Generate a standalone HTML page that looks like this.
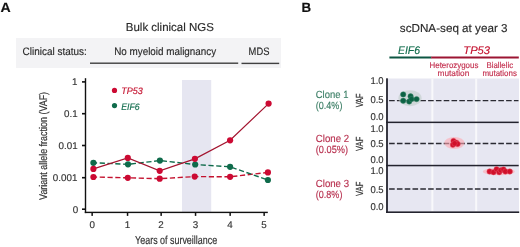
<!DOCTYPE html>
<html><head><meta charset="utf-8">
<style>
html,body{margin:0;padding:0;background:#fff;width:520px;height:247px;overflow:hidden}
svg{display:block;will-change:transform}
text{font-family:"Liberation Sans",sans-serif;text-rendering:geometricPrecision}
</style></head>
<body>
<svg width="520" height="247" viewBox="0 0 520 247">
<rect x="0" y="0" width="520" height="247" fill="#fff"/>

<!-- ===== Panel A ===== -->
<text x="0.4" y="11.5" font-size="13.5" font-weight="bold" fill="#111" stroke="#111" stroke-width="0.15" textLength="10.2" lengthAdjust="spacingAndGlyphs">A</text>
<text x="125.8" y="31.2" font-size="11.5" fill="#2a2a2a" stroke="#2a2a2a" stroke-width="0.15" textLength="88" lengthAdjust="spacingAndGlyphs">Bulk clinical NGS</text>

<rect x="16" y="38" width="265" height="30" fill="#f3f3f5"/>
<text x="22.6" y="54.6" font-size="10.8" fill="#2a2a2a" stroke="#2a2a2a" stroke-width="0.15" textLength="64.2" lengthAdjust="spacingAndGlyphs">Clinical status:</text>
<text x="114.2" y="54.8" font-size="10.8" fill="#2a2a2a" stroke="#2a2a2a" stroke-width="0.15" textLength="102" lengthAdjust="spacingAndGlyphs">No myeloid malignancy</text>
<text x="248.6" y="54.6" font-size="10.8" fill="#2a2a2a" stroke="#2a2a2a" stroke-width="0.15" textLength="20.8" lengthAdjust="spacingAndGlyphs">MDS</text>
<rect x="90" y="62.5" width="148.2" height="1.4" fill="#404040"/>
<rect x="241.5" y="62.7" width="37.7" height="1.4" fill="#404040"/>

<!-- shaded band -->
<rect x="182" y="80" width="29.2" height="132" fill="#e6e6f1"/>

<!-- axes -->
<rect x="84.8" y="78.2" width="1.4" height="134.9" fill="#111"/>
<rect x="84.8" y="211.7" width="183" height="1.4" fill="#111"/>
<g fill="#111">
<rect x="82" y="81.1" width="3" height="1.6"/>
<rect x="82" y="112.9" width="3" height="1.6"/>
<rect x="82" y="144.7" width="3" height="1.6"/>
<rect x="82" y="176.9" width="3" height="1.6"/>
<rect x="82" y="208.4" width="3" height="1.6"/>
<rect x="91.4" y="212.5" width="1.5" height="3.4"/>
<rect x="126.8" y="212.5" width="1.5" height="3.4"/>
<rect x="160.4" y="212.5" width="1.5" height="3.4"/>
<rect x="194.8" y="212.5" width="1.5" height="3.4"/>
<rect x="229.4" y="212.5" width="1.5" height="3.4"/>
<rect x="263.4" y="212.5" width="1.5" height="3.4"/>
</g>
<g font-size="9.8" fill="#333" stroke="#333" stroke-width="0.15" text-anchor="end">
<text x="77.4" y="84.7">1</text>
<text x="77.6" y="116.8">0.1</text>
<text x="77.6" y="148.5">0.01</text>
<text x="77.4" y="181">0.001</text>
<text x="78.2" y="212.6">0</text>
</g>
<g font-size="9.8" fill="#333" stroke="#333" stroke-width="0.15" text-anchor="middle">
<text x="92.2" y="227.7">0</text>
<text x="127.4" y="227.7">1</text>
<text x="161" y="227.7">2</text>
<text x="195.4" y="227.7">3</text>
<text x="230" y="227.7">4</text>
<text x="264" y="227.7">5</text>
</g>
<text transform="translate(135.1,244) scale(0.77,1)" font-size="11.6" fill="#333" stroke="#333" stroke-width="0.18">Years of surveillance</text>
<text transform="translate(46.8,199.9) rotate(-90) scale(0.806,1)" font-size="11.1" fill="#333" stroke="#333" stroke-width="0.18">Variant allele fraction (VAF)</text>

<!-- legend -->
<circle cx="114.5" cy="90.4" r="2.6" fill="#cc0a33"/>
<text x="121.2" y="94" font-size="9.4" font-style="italic" fill="#c4122f" stroke="#c4122f" stroke-width="0.15" textLength="21.6" lengthAdjust="spacingAndGlyphs">TP53</text>
<circle cx="114.5" cy="105.6" r="2.6" fill="#0f6b4b"/>
<text x="121.2" y="109.5" font-size="9.4" font-style="italic" fill="#0f6b4b" stroke="#0f6b4b" stroke-width="0.15" textLength="18.4" lengthAdjust="spacingAndGlyphs">EIF6</text>

<!-- data lines -->
<polyline points="93.4,177 127.8,177.8 159.7,178.7 194.7,176.6 230.1,176.8 267.9,172.4" fill="none" stroke="#c4122f" stroke-width="1.4" stroke-dasharray="5.2,2.6" stroke-dashoffset="1.5"/>
<polyline points="93.4,162.8 128.0,164.3 159.9,160.6 195.2,164.5 230.1,166.8 267.9,180.0" fill="none" stroke="#0f6b4b" stroke-width="1.4" stroke-dasharray="5.2,2.6" stroke-dashoffset="1.5"/>
<polyline points="93.4,168.9 127.8,157.9 159.7,170.8 194.9,158.8 230.1,140.3 268.6,103.6" fill="none" stroke="#a3142f" stroke-width="1.25"/>
<g fill="#cc0a33"><circle cx="93.4" cy="177" r="3.1"/><circle cx="127.8" cy="177.8" r="3.1"/><circle cx="159.7" cy="178.7" r="3.1"/><circle cx="194.7" cy="176.6" r="3.1"/><circle cx="230.1" cy="176.8" r="3.1"/><circle cx="267.9" cy="172.4" r="3.1"/></g>
<g fill="#0f6b4b"><circle cx="93.4" cy="162.8" r="3.1"/><circle cx="128.0" cy="164.3" r="3.1"/><circle cx="159.9" cy="160.6" r="3.1"/><circle cx="195.2" cy="164.5" r="3.1"/><circle cx="230.1" cy="166.8" r="3.1"/><circle cx="267.9" cy="180.0" r="3.1"/></g>
<g fill="#cc0a33"><circle cx="93.4" cy="168.9" r="3.1"/><circle cx="127.8" cy="157.9" r="3.1"/><circle cx="159.7" cy="170.8" r="3.1"/><circle cx="194.9" cy="158.8" r="3.1"/><circle cx="230.1" cy="140.3" r="3.1"/><circle cx="268.6" cy="103.6" r="3.1"/></g>

<!-- ===== Panel B ===== -->
<text x="301.5" y="11.8" font-size="13.5" font-weight="bold" fill="#111" stroke="#111" stroke-width="0.15" textLength="9.6" lengthAdjust="spacingAndGlyphs">B</text>
<text x="399.8" y="31.8" font-size="11.5" fill="#2a2a2a" stroke="#2a2a2a" stroke-width="0.15" textLength="107.8" lengthAdjust="spacingAndGlyphs">scDNA-seq at year 3</text>

<text x="398" y="54.2" font-size="11" font-style="italic" fill="#0f6b4b" stroke="#0f6b4b" stroke-width="0.15" textLength="22" lengthAdjust="spacingAndGlyphs">EIF6</text>
<text x="463.3" y="54.2" font-size="11" font-style="italic" fill="#c4122f" stroke="#c4122f" stroke-width="0.15" textLength="26.8" lengthAdjust="spacingAndGlyphs">TP53</text>
<rect x="389.4" y="56.5" width="42" height="2" fill="#0d5642"/>
<rect x="431.2" y="56.5" width="87.6" height="2" fill="#9c1532"/>

<g font-size="8.4" fill="#c4304f" stroke="#c4304f" stroke-width="0.15">
<text x="429.5" y="67.6" textLength="48.9" lengthAdjust="spacingAndGlyphs">Heterozygous</text>
<text x="437.6" y="76.4" textLength="31.7" lengthAdjust="spacingAndGlyphs">mutation</text>
<text x="486.5" y="67.6" textLength="26.6" lengthAdjust="spacingAndGlyphs">Biallelic</text>
<text x="482.4" y="76.4" textLength="34.5" lengthAdjust="spacingAndGlyphs">mutations</text>
</g>

<!-- grid -->
<rect x="388" y="78.5" width="131" height="133.2" fill="#e7e7f2"/>
<rect x="431.4" y="78.5" width="2" height="133" fill="#f8f8fb"/>
<rect x="475.2" y="78.5" width="2" height="133" fill="#f8f8fb"/>

<g stroke="#2a2a32" stroke-width="1.4" stroke-dasharray="5.6,2.2" fill="none">
<line x1="389.1" y1="100.6" x2="518.5" y2="100.6"/>
<line x1="389.1" y1="143.5" x2="518.5" y2="143.5"/>
<line x1="389.1" y1="189" x2="518.5" y2="189"/>
</g>
<rect x="386" y="121.6" width="132.7" height="1.5" fill="#23232e"/>
<rect x="386" y="164.8" width="132.7" height="1.5" fill="#23232e"/>
<rect x="386" y="211.4" width="133.2" height="1.6" fill="#23232e"/>
<rect x="386.1" y="78.3" width="1.8" height="134.7" fill="#23232e"/>

<!-- violins -->
<ellipse cx="410" cy="98.2" rx="11.6" ry="8" fill="#bccbc4" fill-opacity="0.55"/>
<ellipse cx="454.4" cy="143" rx="10.2" ry="6" fill="#ffa8b0" fill-opacity="0.6"/>
<ellipse cx="498.8" cy="171.6" rx="16" ry="3.6" fill="#ffa8b0" fill-opacity="0.6"/>
<g font-size="9.9" fill="#333" stroke="#333" stroke-width="0.15" text-anchor="end">
<text x="383.6" y="84" textLength="13.2" lengthAdjust="spacingAndGlyphs">1.0</text>
<text x="383.6" y="102.9" textLength="13.2" lengthAdjust="spacingAndGlyphs">0.5</text>
<text x="383.6" y="119.5" textLength="13.2" lengthAdjust="spacingAndGlyphs">0.0</text>
<text x="383.6" y="131.6" textLength="13.2" lengthAdjust="spacingAndGlyphs">1.0</text>
<text x="383.6" y="146.9" textLength="13.2" lengthAdjust="spacingAndGlyphs">0.5</text>
<text x="383.6" y="162.9" textLength="13.2" lengthAdjust="spacingAndGlyphs">0.0</text>
<text x="383.6" y="174.1" textLength="13.2" lengthAdjust="spacingAndGlyphs">1.0</text>
<text x="383.6" y="193" textLength="13.2" lengthAdjust="spacingAndGlyphs">0.5</text>
<text x="383.6" y="210.3" textLength="13.2" lengthAdjust="spacingAndGlyphs">0.0</text>
</g>
<g font-size="10.3" fill="#333" stroke="#333" stroke-width="0.2">
<text transform="translate(363,107.3) rotate(-90)" textLength="13.8" lengthAdjust="spacingAndGlyphs">VAF</text>
<text transform="translate(363,150.9) rotate(-90)" textLength="14.2" lengthAdjust="spacingAndGlyphs">VAF</text>
<text transform="translate(363,195.9) rotate(-90)" textLength="14.2" lengthAdjust="spacingAndGlyphs">VAF</text>
</g>

<g font-size="10.4">
<text x="315.8" y="98" fill="#3c7f66" stroke="#3c7f66" stroke-width="0.15" textLength="32.6" lengthAdjust="spacingAndGlyphs">Clone 1</text>
<text x="315.8" y="109.1" fill="#3c7f66" stroke="#3c7f66" stroke-width="0.15" textLength="26.6" lengthAdjust="spacingAndGlyphs">(0.4%)</text>
<text x="315.8" y="141.6" fill="#b8304f" stroke="#b8304f" stroke-width="0.15" textLength="33.3" lengthAdjust="spacingAndGlyphs">Clone 2</text>
<text x="315.8" y="152.9" fill="#b8304f" stroke="#b8304f" stroke-width="0.15" textLength="32.2" lengthAdjust="spacingAndGlyphs">(0.05%)</text>
<text x="315.8" y="186.6" fill="#b8304f" stroke="#b8304f" stroke-width="0.15" textLength="33.2" lengthAdjust="spacingAndGlyphs">Clone 3</text>
<text x="315.8" y="197.9" fill="#b8304f" stroke="#b8304f" stroke-width="0.15" textLength="26.6" lengthAdjust="spacingAndGlyphs">(0.8%)</text>
</g>

<!-- clone 1 dots -->
<g fill="#0c6244" stroke="#3d8a6c" stroke-width="0.45">
<circle cx="403.2" cy="94.4" r="2.7"/><circle cx="403.2" cy="100.7" r="2.7"/>
<circle cx="410.6" cy="96.3" r="2.7"/><circle cx="409.2" cy="101.5" r="2.7"/><circle cx="411.5" cy="99.1" r="2.7"/>
<circle cx="416.6" cy="99.1" r="2.7"/>
</g>
<!-- clone 2 dots -->
<g fill="#d0102a" stroke="#e4566a" stroke-width="0.45">
<circle cx="453.5" cy="140.9" r="2.7"/><circle cx="456.4" cy="142.6" r="2.7"/><circle cx="452.9" cy="144.8" r="2.7"/>
<circle cx="457.6" cy="144" r="2.7"/><circle cx="454.6" cy="143.4" r="2.7"/>
</g>
<!-- clone 3 dots -->
<g fill="#d0102a" stroke="#e4566a" stroke-width="0.45">
<circle cx="489.6" cy="171.5" r="2.7"/><circle cx="493.5" cy="172.2" r="2.7"/><circle cx="496.6" cy="169.2" r="2.7"/>
<circle cx="499.2" cy="172.2" r="2.7"/><circle cx="500.8" cy="170.3" r="2.7"/><circle cx="503.5" cy="169.4" r="2.7"/>
<circle cx="505.4" cy="171.5" r="2.7"/><circle cx="509.8" cy="171.5" r="2.7"/>
</g>
</svg>
</body></html>
